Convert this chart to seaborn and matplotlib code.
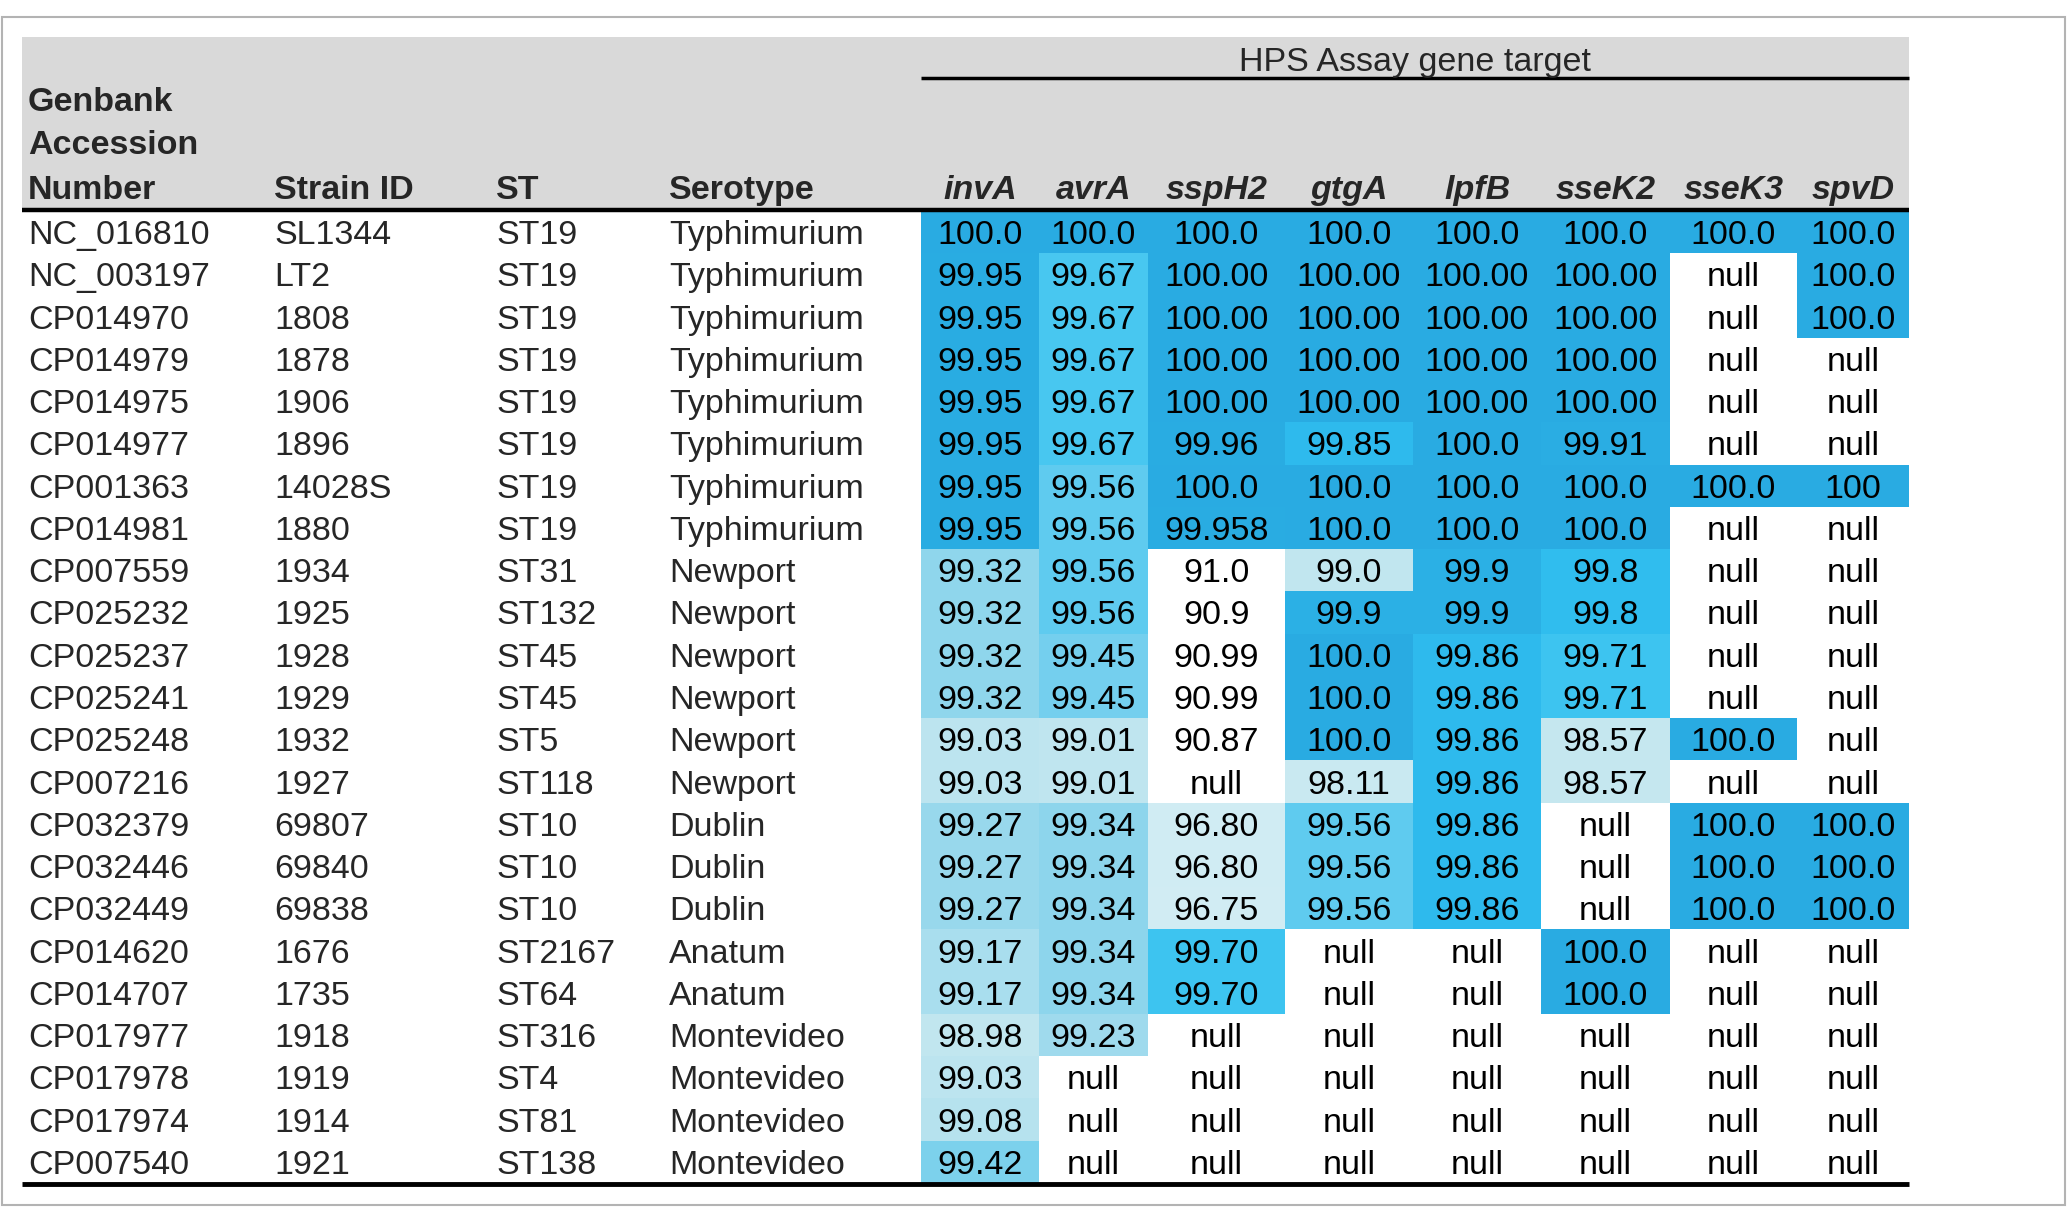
import numpy as np
import matplotlib
matplotlib.use("Agg")
import matplotlib.pyplot as plt
from matplotlib.colors import LinearSegmentedColormap
from matplotlib.patches import Rectangle
import seaborn as sns

sns.set_theme(style="white")
plt.rcParams['font.family'] = ['Liberation Sans', 'DejaVu Sans']

# ---------------- data ----------------
accession = ["NC_016810", "NC_003197", "CP014970", "CP014979", "CP014975", "CP014977",
             "CP001363", "CP014981", "CP007559", "CP025232", "CP025237", "CP025241",
             "CP025248", "CP007216", "CP032379", "CP032446", "CP032449", "CP014620",
             "CP014707", "CP017977", "CP017978", "CP017974", "CP007540"]
strain_id = ["SL1344", "LT2", "1808", "1878", "1906", "1896", "14028S", "1880", "1934",
             "1925", "1928", "1929", "1932", "1927", "69807", "69840", "69838", "1676",
             "1735", "1918", "1919", "1914", "1921"]
st = ["ST19", "ST19", "ST19", "ST19", "ST19", "ST19", "ST19", "ST19", "ST31", "ST132",
      "ST45", "ST45", "ST5", "ST118", "ST10", "ST10", "ST10", "ST2167", "ST64", "ST316",
      "ST4", "ST81", "ST138"]
serotype = ["Typhimurium"] * 8 + ["Newport"] * 6 + ["Dublin"] * 3 + ["Anatum"] * 2 + ["Montevideo"] * 4

genes = ["invA", "avrA", "sspH2", "gtgA", "lpfB", "sseK2", "sseK3", "spvD"]
invA = ["100.0", "99.95", "99.95", "99.95", "99.95", "99.95", "99.95", "99.95", "99.32", "99.32",
        "99.32", "99.32", "99.03", "99.03", "99.27", "99.27", "99.27", "99.17", "99.17", "98.98",
        "99.03", "99.08", "99.42"]
avrA = ["100.0", "99.67", "99.67", "99.67", "99.67", "99.67", "99.56", "99.56", "99.56", "99.56",
        "99.45", "99.45", "99.01", "99.01", "99.34", "99.34", "99.34", "99.34", "99.34", "99.23",
        "null", "null", "null"]
sspH2 = ["100.0", "100.00", "100.00", "100.00", "100.00", "99.96", "100.0", "99.958", "91.0", "90.9",
         "90.99", "90.99", "90.87", "null", "96.80", "96.80", "96.75", "99.70", "99.70", "null",
         "null", "null", "null"]
gtgA = ["100.0", "100.00", "100.00", "100.00", "100.00", "99.85", "100.0", "100.0", "99.0", "99.9",
        "100.0", "100.0", "100.0", "98.11", "99.56", "99.56", "99.56", "null", "null", "null",
        "null", "null", "null"]
lpfB = ["100.0", "100.00", "100.00", "100.00", "100.00", "100.0", "100.0", "100.0", "99.9", "99.9",
        "99.86", "99.86", "99.86", "99.86", "99.86", "99.86", "99.86", "null", "null", "null",
        "null", "null", "null"]
sseK2 = ["100.0", "100.00", "100.00", "100.00", "100.00", "99.91", "100.0", "100.0", "99.8", "99.8",
         "99.71", "99.71", "98.57", "98.57", "null", "null", "null", "100.0", "100.0", "null",
         "null", "null", "null"]
sseK3 = ["100.0", "null", "null", "null", "null", "null", "100.0", "null", "null", "null",
         "null", "null", "100.0", "null", "100.0", "100.0", "100.0", "null", "null", "null",
         "null", "null", "null"]
spvD = ["100.0", "100.0", "100.0", "null", "null", "null", "100", "null", "null", "null",
        "null", "null", "null", "null", "100.0", "100.0", "100.0", "null", "null", "null",
        "null", "null", "null"]
gene_cols = [invA, avrA, sspH2, gtgA, lpfB, sseK2, sseK3, spvD]

# ---------------- colour scale ----------------
VMIN, VMAX = 96.5, 100.0
anchors = [(96.5, "#d3edf4"), (96.8, "#d0ecf3"), (98.1, "#c9e9f1"), (98.57, "#c5e7ef"),
           (99.0, "#c1e6ef"), (99.08, "#b6e2ee"), (99.17, "#aadeee"), (99.27, "#98d8ec"),
           (99.34, "#8dd5ec"), (99.42, "#7dd1ec"), (99.45, "#74cfee"), (99.56, "#5fcbef"),
           (99.67, "#48c7f0"), (99.70, "#3fc5f0"), (99.8, "#30bdee"), (99.9, "#2db9ec"),
           (99.905, "#2aade3"), (100.0, "#29abe2")]
cmap = LinearSegmentedColormap.from_list(
    "hps", [((v - VMIN) / (VMAX - VMIN), c) for v, c in anchors])
cmap.set_under("white")
cmap.set_bad("white")

# ---------------- layout (pixels) ----------------
W, H = 2068, 1224
FS = 24.5
VA = "center_baseline"
fig = plt.figure(figsize=(W / 100, H / 100), dpi=100)
fig.patch.set_facecolor("white")

col_edges = [921, 1039, 1148, 1285, 1413, 1541, 1670, 1797, 1909]
row_top, row_bot = 211, 1183
n_rows = len(accession)
row_h = (row_bot - row_top) / n_rows

for j, (g, col) in enumerate(zip(genes, gene_cols)):
    x0, x1 = col_edges[j], col_edges[j + 1]
    ax = fig.add_axes([x0 / W, 1 - row_bot / H, (x1 - x0) / W, (row_bot - row_top) / H])
    vals = np.array([np.nan if s == "null" else float(s) for s in col]).reshape(-1, 1)
    labels = np.array(col).reshape(-1, 1)
    sns.heatmap(vals, ax=ax, cmap=cmap, vmin=VMIN, vmax=VMAX, cbar=False,
                annot=labels, fmt="", linewidths=0,
                annot_kws=dict(color="black", fontsize=FS, family="Liberation Sans", va=VA),
                xticklabels=False, yticklabels=False)
    ax.set_facecolor("white")
    for i, s in enumerate(col):
        if s == "null":
            ax.text(0.5, i + 0.5, "null", ha="center", va=VA,
                    fontsize=FS, color="black")
    for sp in ax.spines.values():
        sp.set_visible(False)

# overlay for header, text, rules, frame
ov = fig.add_axes([0, 0, 1, 1], zorder=5)
ov.set_xlim(0, W)
ov.set_ylim(H, 0)
ov.axis("off")
ov.patch.set_alpha(0)

ov.add_patch(Rectangle((2, 17), 2063, 1188, fill=False, edgecolor="#b3b3b3", lw=1.5))
ov.add_patch(Rectangle((22, 37), 1909 - 22, 211 - 37, facecolor="#d9d9d9", edgecolor="none", zorder=0))
ov.plot([921, 1909], [78, 78], color="black", lw=2.5, solid_capstyle="butt")
ov.plot([22, 1909], [210, 210], color="black", lw=3.2, solid_capstyle="butt")
ov.plot([22, 1909], [1184, 1184], color="black", lw=3.5, solid_capstyle="butt")

ov.text(1415, 59, "HPS Assay gene target", ha="center", va=VA, fontsize=FS)
ov.text(28, 99, "Genbank", ha="left", va=VA, fontsize=FS, fontweight="bold")
ov.text(28, 142, "Accession", ha="left", va=VA, fontsize=FS, fontweight="bold")
hdr_y = 187
ov.text(28, hdr_y, "Number", ha="left", va=VA, fontsize=FS, fontweight="bold")
ov.text(274, hdr_y, "Strain ID", ha="left", va=VA, fontsize=FS, fontweight="bold")
ov.text(496, hdr_y, "ST", ha="left", va=VA, fontsize=FS, fontweight="bold")
ov.text(669, hdr_y, "Serotype", ha="left", va=VA, fontsize=FS, fontweight="bold")
for j, g in enumerate(genes):
    cx = (col_edges[j] + col_edges[j + 1]) / 2
    ov.text(cx, hdr_y, g, ha="center", va=VA, fontsize=FS,
            fontweight="bold", fontstyle="italic")

text_x = [28, 274, 496, 669]
for i in range(n_rows):
    cy = row_top + (i + 0.5) * row_h
    for x, col in zip(text_x, [accession, strain_id, st, serotype]):
        ov.text(x, cy, col[i], ha="left", va=VA, fontsize=FS)

fig.savefig("out.png", dpi=100, facecolor="white")
